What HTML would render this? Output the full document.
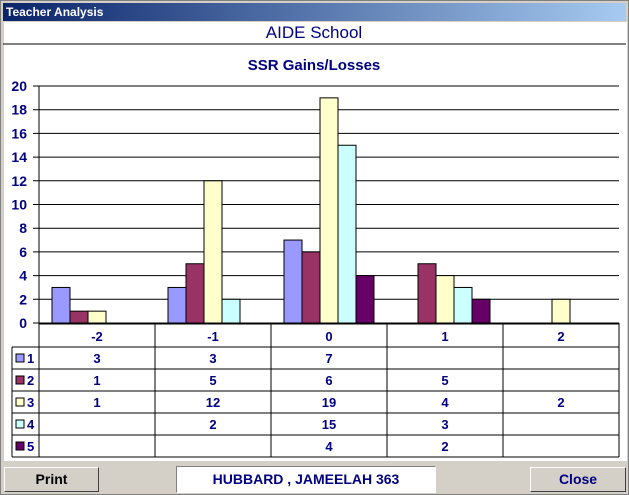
<!DOCTYPE html>
<html><head><meta charset="utf-8"><style>
body{margin:0;width:629px;height:495px;overflow:hidden;background:#d4d0c8;font-family:"Liberation Sans",sans-serif}
#win{position:absolute;left:0;top:0;width:627px;height:493px;border:1px solid #808080;background:#d4d0c8}
#title{position:absolute;left:2px;top:2px;width:623px;height:18px;background:linear-gradient(to right,#0a246a,#a6caf0);color:#fff;font-weight:bold;font-size:12px;line-height:18px;padding-left:3px;box-sizing:border-box}
#content{position:absolute;left:3px;top:21px;width:623px;height:439px;background:#fff}
.btn{position:absolute;top:466px;height:25px;background:#d4d0c8;border:1px solid;border-color:#fff #404040 #404040 #fff;box-sizing:border-box;font-weight:bold;font-size:14px;text-align:center;line-height:23px}
#namebox{position:absolute;left:175px;top:465px;width:260px;height:27px;background:#fff;border:1px solid;border-color:#808080 #fff #fff #808080;box-sizing:border-box;color:#000080;font-weight:bold;font-size:14px;text-align:center;line-height:24px}
</style></head><body>
<div id="win">
<div id="title">Teacher Analysis</div>
<div id="content"></div>
<svg id="chart" width="629" height="495" style="position:absolute;left:-1px;top:-1px"></svg>
<div class="btn" style="left:3px;width:95px;color:#000">Print</div>
<div id="namebox">HUBBARD , JAMEELAH 363</div>
<div class="btn" style="left:529px;width:96px;color:#000080">Close</div>
</div>
<script>
const categories=["-2","-1","0","1","2"];
const seriesNames=["1","2","3","4","5"];
const s1=[3,3,7,null,null];
const s2=[1,5,6,5,null];
const s3=[1,12,19,4,2];
const s4=[null,2,15,3,null];
const s5=[null,null,4,2,null];
const yTicks=[0,2,4,6,8,10,12,14,16,18,20];
const series=[s1,s2,s3,s4,s5];
const colors=["#9999ff","#993366","#ffffcc","#ccffff","#660066"];
const NS="http://www.w3.org/2000/svg";
const svg=document.getElementById('chart');
const X0=39,X1=619,Y0=323,YMAX=86,colW=(X1-X0)/categories.length;
const y=v=>Y0-(v/20)*(Y0-YMAX);
const x=i=>X0+i*colW;
function mk(t,a,txt){const e=document.createElementNS(NS,t);for(const k in a)e.setAttribute(k,a[k]);if(txt!=null)e.textContent=txt;svg.appendChild(e);return e;}
const hl=mk('line',{x1:3,x2:626,y1:44,y2:44,stroke:'#000','stroke-width':1});


let t=mk('text',{x:314,y:38,'text-anchor':'middle','font-size':17,fill:'#000080'},'AIDE School');


t=mk('text',{x:314,y:70,'text-anchor':'middle','font-size':15,'font-weight':'bold',fill:'#000080'},'SSR Gains/Losses');


yTicks.forEach(v=>{
  const g=mk('line',{x1:X0-6,x2:X1,y1:y(v),y2:y(v),stroke:'#000'});
  
  
  const l=mk('text',{x:27,y:y(v)+5,'text-anchor':'end','font-size':14,'font-weight':'bold',fill:'#000080'},v);
  
  
});
const ax=mk('line',{x1:X0,x2:X0,y1:YMAX,y2:457,stroke:'#000'});


categories.forEach((c,i)=>{
  series.forEach((s,j)=>{
    const v=s[i]; if(v==null)return;
    const b=mk('rect',{x:x(i)+13+j*18,y:y(v),width:18,height:Y0-y(v),fill:colors[j],stroke:'#000'});
    
    
  });
});
// table
const rowY=[324,347,369,391,413,435,457];
rowY.forEach((ry,r)=>{
  const l=mk('line',{x1:r==0?X0:12,x2:X1,y1:ry,y2:ry,stroke:'#000'});
  
  
});
for(let i=0;i<=categories.length;i++){
  const l=mk('line',{x1:x(i),x2:x(i),y1:Y0,y2:457,stroke:'#000'});
  
  
}
const ll=mk('line',{x1:12,x2:12,y1:347,y2:457,stroke:'#000'});


categories.forEach((c,i)=>{
  const e=mk('text',{x:x(i)+colW/2,y:341,'text-anchor':'middle','font-size':13,'font-weight':'bold',fill:'#000080'},c);
  
  
});
series.forEach((s,j)=>{
  const cy=(rowY[j+1]+rowY[j+2])/2;
  const sw=mk('rect',{x:16,y:cy-4,width:8,height:8,fill:colors[j],stroke:'#000'});
  
  
  const ln=mk('text',{x:27,y:cy+5,'font-size':13,'font-weight':'bold',fill:'#000080'},seriesNames[j]);
  
  
  s.forEach((v,i)=>{
    if(v==null)return;
    const e=mk('text',{x:x(i)+colW/2,y:cy+5,'text-anchor':'middle','font-size':13,'font-weight':'bold',fill:'#000080'},v);
    
    
  });
});
</script>
</body></html>
